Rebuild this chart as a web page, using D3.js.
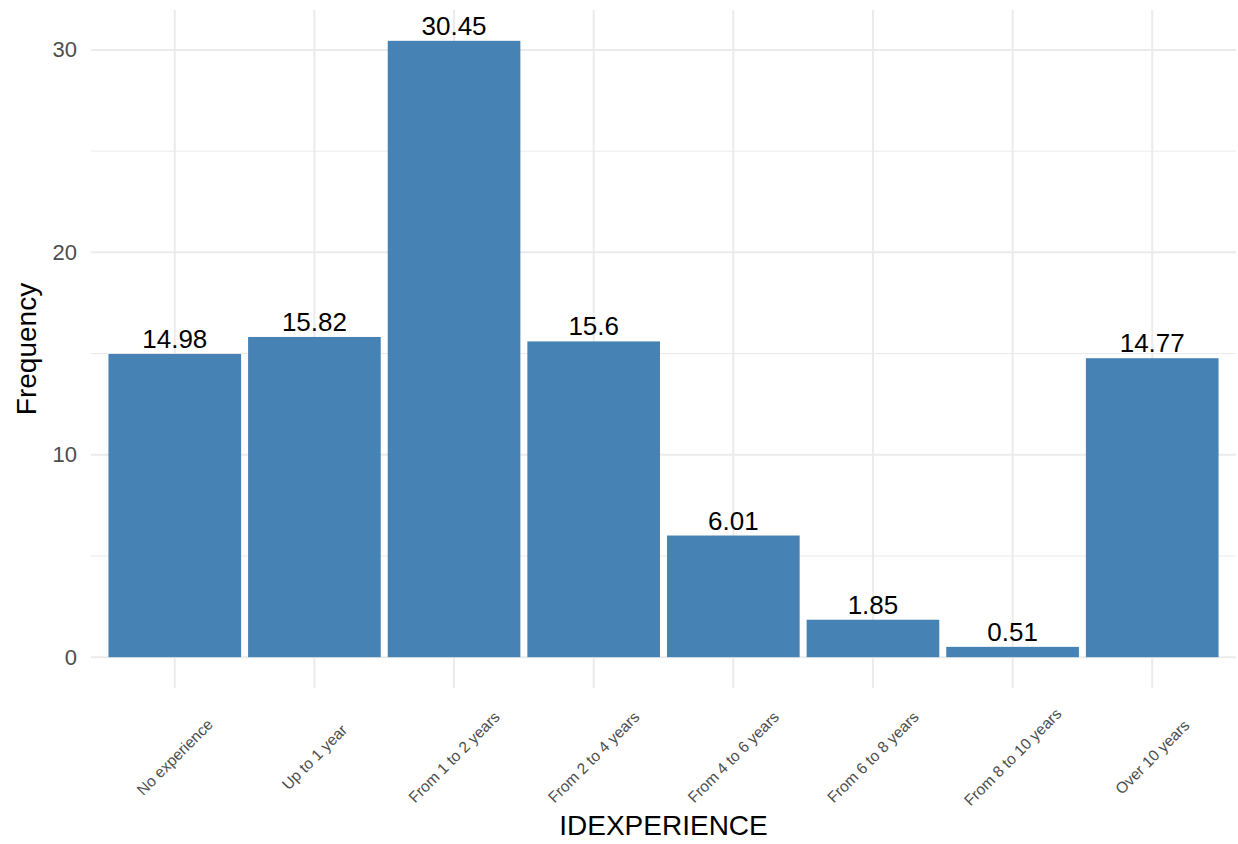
<!DOCTYPE html>
<html>
<head>
<meta charset="utf-8">
<script src="https://cdn.jsdelivr.net/npm/d3@7"></script>
<style>
  html, body { margin: 0; padding: 0; background: #ffffff; }
  svg { display: block; font-family: "Liberation Sans", Arial, sans-serif; }
</style>
</head>
<body>
<svg id="chart" width="1238" height="844"></svg>
<script>
const categories = ["No experience", "Up to 1 year", "From 1 to 2 years", "From 2 to 4 years",
  "From 4 to 6 years", "From 6 to 8 years", "From 8 to 10 years", "Over 10 years"];
const values = [14.98, 15.82, 30.45, 15.6, 6.01, 1.85, 0.51, 14.77];
const labels = ["14.98", "15.82", "30.45", "15.6", "6.01", "1.85", "0.51", "14.77"];
const yTicks = [0, 10, 20, 30];
const yMinorTicks = [5, 15, 25];
const xTitle = "IDEXPERIENCE";
const yTitle = "Frequency";

const svg = d3.select("#chart");
const panel = { left: 91, right: 1236, top: 10, bottom: 688 };

const yMax = d3.max(values);
const ySpan = yMax - 0;
const y = d3.scaleLinear()
  .domain([0 - ySpan * 0.05, yMax + ySpan * 0.05])
  .range([panel.bottom, panel.top]);

const x = d3.scaleBand()
  .domain(categories)
  .range([panel.left, panel.right])
  .paddingInner(0.05)
  .paddingOuter(0.125);

const grid = svg.append("g");
grid.selectAll("line.minor").data(yMinorTicks).enter().append("line")
  .attr("x1", panel.left).attr("x2", panel.right)
  .attr("y1", d => y(d)).attr("y2", d => y(d))
  .attr("stroke", "#ebebeb").attr("stroke-width", 1);
grid.selectAll("line.major").data(yTicks).enter().append("line")
  .attr("x1", panel.left).attr("x2", panel.right)
  .attr("y1", d => y(d)).attr("y2", d => y(d))
  .attr("stroke", "#ebebeb").attr("stroke-width", 2);
grid.selectAll("line.vert").data(categories).enter().append("line")
  .attr("x1", d => x(d) + x.bandwidth() / 2).attr("x2", d => x(d) + x.bandwidth() / 2)
  .attr("y1", panel.top).attr("y2", panel.bottom)
  .attr("stroke", "#ebebeb").attr("stroke-width", 2);

svg.append("g").selectAll("rect").data(values).enter().append("rect")
  .attr("x", (d, i) => x(categories[i]))
  .attr("width", x.bandwidth())
  .attr("y", d => y(d))
  .attr("height", d => y(0) - y(d))
  .attr("fill", "#4682B4");

svg.append("g").selectAll("text").data(values).enter().append("text")
  .attr("x", (d, i) => x(categories[i]) + x.bandwidth() / 2)
  .attr("y", d => y(d) - 6)
  .attr("text-anchor", "middle")
  .attr("font-size", 26)
  .attr("fill", "#000000")
  .text((d, i) => labels[i]);

const yAxis = d3.axisLeft(y).tickValues(yTicks).tickSize(0).tickPadding(14);
const yg = svg.append("g").attr("transform", `translate(${panel.left},0)`).call(yAxis);
yg.select(".domain").remove();
yg.selectAll("text").attr("font-size", 22).attr("fill", "#4d4d4d")
  .attr("font-family", "'Liberation Sans', Arial, sans-serif");

const xAxis = d3.axisBottom(x).tickSize(0).tickFormat(d => d);
const xg = svg.append("g").attr("transform", `translate(0,${panel.bottom})`).call(xAxis);
xg.select(".domain").remove();
xg.selectAll(".tick text")
  .attr("font-size", 15.5).attr("fill", "#4d4d4d")
  .attr("font-family", "'Liberation Sans', Arial, sans-serif")
  .attr("y", 0).attr("dy", "0.35em")
  .attr("text-anchor", "middle")
  .attr("transform", "translate(0,69) rotate(-45)");

svg.append("text")
  .attr("x", (panel.left + panel.right) / 2)
  .attr("y", 835)
  .attr("text-anchor", "middle")
  .attr("font-size", 28)
  .attr("fill", "#000000")
  .text(xTitle);

svg.append("text")
  .attr("transform", `translate(36,${(panel.top + panel.bottom) / 2}) rotate(-90)`)
  .attr("text-anchor", "middle")
  .attr("font-size", 28)
  .attr("fill", "#000000")
  .text(yTitle);
</script>
</body>
</html>
